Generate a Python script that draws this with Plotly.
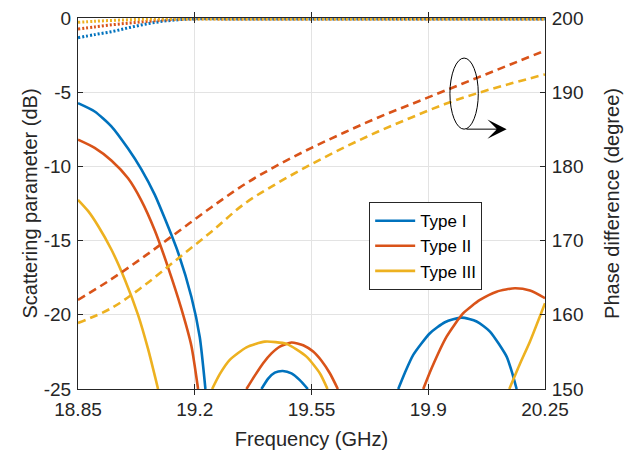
import plotly.graph_objects as go

# ---------------- data ----------------
freq_ticks = [18.85, 19.2, 19.55, 19.9, 20.25]
freq_tick_text = ["18.85", "19.2", "19.55", "19.9", "20.25"]
db_ticks = [-25, -20, -15, -10, -5, 0]
db_tick_text = ["-25", "-20", "-15", "-10", "-5", "0"]
phase_ticks = [150, 160, 170, 180, 190, 200]

# |S11| (dB), visible lobes above -25 dB
t1_f = [18.85, 18.90, 18.95, 19.00, 19.04, 19.08, 19.11, 19.15, 19.19, 19.215, 19.232, None,
        19.40, 19.42, 19.44, 19.464, 19.49, 19.515, 19.539, None,
        19.81, 19.83, 19.855, 19.905, 19.95, 20.00, 20.045, 20.085, 20.135, 20.15, 20.165]
t1_s11 = [-5.74, -6.3, -7.3, -8.8, -10.2, -11.9, -13.5, -15.8, -18.8, -21.5, -25.0, None,
          -25.0, -24.3, -23.9, -23.79, -23.95, -24.4, -25.0, None,
          -25.0, -23.9, -22.7, -21.24, -20.5, -20.19, -20.45, -21.13, -22.82, -23.8, -25.0]

t2_f = [18.85, 18.90, 18.95, 19.00, 19.04, 19.08, 19.12, 19.16, 19.19, 19.21, None,
        19.355, 19.38, 19.405, 19.43, 19.455, 19.49, 19.525, 19.555, 19.58, 19.605, 19.629, None,
        19.885, 19.91, 19.955, 20.005, 20.055, 20.105, 20.16, 20.205, 20.25]
t2_s11 = [-8.2, -8.75, -9.6, -10.8, -12.3, -14.3, -16.8, -19.6, -22.1, -25.0, None,
          -25.0, -24.1, -23.26, -22.6, -22.14, -21.87, -22.05, -22.48, -23.1, -23.94, -25.0, None,
          -25.0, -23.6, -21.47, -19.89, -19.0, -18.44, -18.21, -18.37, -18.88]

t3_f = [18.85, 18.88, 18.91, 18.95, 18.99, 19.03, 19.06, 19.09, None,
        19.252, 19.275, 19.305, 19.355, 19.41, 19.475, 19.535, 19.575, 19.598, None,
        20.143, 20.175, 20.205, 20.25]
t3_s11 = [-12.25, -13.0, -14.0, -15.6, -17.6, -20.0, -22.3, -25.0, None,
          -25.0, -24.0, -23.04, -22.19, -21.81, -21.96, -22.82, -23.94, -25.0, None,
          -25.0, -23.3, -21.8, -19.22]

# |S21| (dB)
s21_f = [18.85, 18.90, 18.955, 19.005, 19.055, 19.105, 19.155, 19.20, 19.30, 19.60, 19.90, 20.25]
t1_s21 = [-1.33, -1.12, -0.90, -0.64, -0.40, -0.22, -0.11, -0.06, -0.06, -0.06, -0.06, -0.06]
t2_s21 = [-0.74, -0.60, -0.45, -0.34, -0.23, -0.14, -0.08, -0.06, -0.06, -0.06, -0.06, -0.06]
t3_s21 = [-0.29, -0.22, -0.16, -0.12, -0.08, -0.06, -0.06, -0.06, -0.06, -0.06, -0.06, -0.06]

# phase difference (degree)
phase_f = [18.85, 18.95, 19.05, 19.15, 19.25, 19.35, 19.45, 19.55, 19.65, 19.75,
           19.85, 19.95, 20.05, 20.15, 20.25]
t2_phase = [162.0, 164.8, 167.9, 171.2, 174.5, 177.6, 180.2, 182.5, 184.6, 186.6,
            188.4, 190.2, 192.0, 193.8, 195.6]
t3_phase = [158.9, 160.9, 164.0, 167.6, 171.2, 175.0, 177.8, 180.3, 182.6, 184.7,
            186.6, 188.4, 189.9, 191.2, 192.4]

names = ["Type I", "Type II", "Type III"]
colors = ["#0072BD", "#D95319", "#EDB120"]

FONT = "Liberation Sans, Arial, Helvetica, sans-serif"
AXIS_COLOR = "#262626"
GRID_COLOR = "#e3e3e3"

fig = go.Figure()

# S21 dotted curves
for s21, c in zip([t1_s21, t2_s21, t3_s21], colors):
    fig.add_trace(go.Scatter(x=s21_f, y=s21, mode="lines", showlegend=False,
                             line=dict(color=c, width=3, dash="2px,2px", shape="spline"),
                             hoverinfo="skip"))

# S11 solid curves
for f, s11, n, c in zip([t1_f, t2_f, t3_f], [t1_s11, t2_s11, t3_s11], names, colors):
    fig.add_trace(go.Scatter(x=f, y=s11, mode="lines", name=n, connectgaps=False,
                             line=dict(color=c, width=2.6, shape="spline", smoothing=0.6)))

# phase difference dashed curves (right axis)
for ph, c in zip([t2_phase, t3_phase], colors[1:]):
    fig.add_trace(go.Scatter(x=phase_f, y=ph, yaxis="y2", mode="lines", showlegend=False,
                             line=dict(color=c, width=2.6, dash="8px,5px", shape="spline")))

# ellipse + arrow marking the curves that belong to the right axis
fig.add_shape(type="circle", xref="x", yref="y", x0=19.965, x1=20.050, y0=-7.49, y1=-2.70,
              line=dict(color="black", width=1))
fig.add_annotation(x=20.135, y=-7.49, ax=20.010, ay=-7.49, xref="x", yref="y",
                   axref="x", ayref="y", text="", showarrow=True,
                   arrowhead=3, arrowsize=3.2, arrowwidth=1, arrowcolor="black")

axis_common = dict(showline=True, linecolor=AXIS_COLOR, linewidth=1, ticks="inside",
                   ticklen=5, tickcolor=AXIS_COLOR, tickwidth=1,
                   tickfont=dict(family=FONT, size=19, color=AXIS_COLOR),
                   zeroline=False)

fig.update_layout(
    width=634, height=454,
    margin=dict(l=78, r=89, t=18, b=65, autoexpand=False),
    paper_bgcolor="white", plot_bgcolor="white",
    font=dict(family=FONT, color=AXIS_COLOR),
    xaxis=dict(range=[18.85, 20.25], tickvals=freq_ticks, ticktext=freq_tick_text,
               mirror="allticks", showgrid=True, gridcolor=GRID_COLOR, ticklabelstandoff=3,
               title=dict(text="Frequency (GHz)", font=dict(family=FONT, size=20, color=AXIS_COLOR),
                          standoff=13),
               **axis_common),
    yaxis=dict(range=[-25, 0], tickvals=db_ticks, ticktext=db_tick_text,
               showgrid=True, gridcolor=GRID_COLOR, ticklabelstandoff=2,
               title=dict(text="Scattering parameter (dB)",
                          font=dict(family=FONT, size=20, color=AXIS_COLOR), standoff=0),
               **axis_common),
    yaxis2=dict(range=[150, 200], tickvals=phase_ticks, overlaying="y", side="right",
                showgrid=False, ticklabelstandoff=2,
                title=dict(text="Phase difference (degree)",
                           font=dict(family=FONT, size=20, color=AXIS_COLOR), standoff=22),
                **axis_common),
    legend=dict(x=0.6235, y=0.5036, xanchor="left", yanchor="top",
                bgcolor="white", bordercolor=AXIS_COLOR, borderwidth=1,
                font=dict(family=FONT, size=17, color="black"),
                tracegroupgap=0, itemwidth=40),
    showlegend=True,
)

fig.write_html("out.html")
